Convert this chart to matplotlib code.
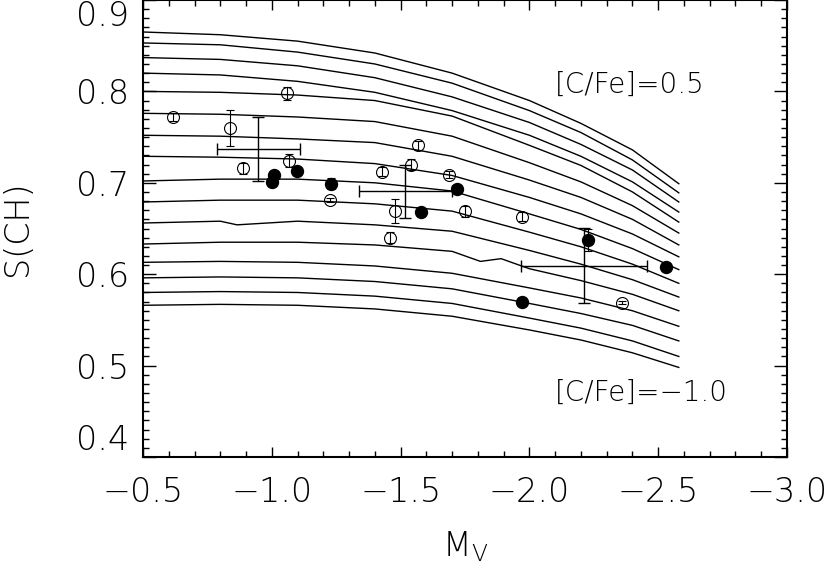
import matplotlib
matplotlib.use("Agg")
import matplotlib.pyplot as plt
from matplotlib.ticker import MultipleLocator

plt.rcParams['font.family'] = ['DejaVu Sans']
plt.rcParams['font.weight'] = 'ultralight'
plt.rcParams['axes.labelweight'] = 'ultralight'
plt.rcParams['mathtext.fontset'] = 'custom'
plt.rcParams['mathtext.rm'] = 'DejaVu Sans:weight=ultralight'
plt.rcParams['mathtext.default'] = 'rm'

# model curves, [C/Fe] = 0.5 (top) down to -1.0 (bottom)
mv_grid = [-0.5, -0.8, -1.1, -1.4, -1.7, -2.0, -2.2, -2.4, -2.58]
curves = [
    [0.865, 0.862, 0.855, 0.842, 0.820, 0.790, 0.765, 0.736, 0.699],
    [0.853, 0.851, 0.843, 0.830, 0.809, 0.779, 0.755, 0.725, 0.689],
    [0.837, 0.835, 0.828, 0.815, 0.794, 0.766, 0.742, 0.714, 0.679],
    [0.820, 0.818, 0.811, 0.799, 0.779, 0.752, 0.729, 0.701, 0.668],
    [0.800, 0.799, 0.796, 0.790, 0.773, 0.741, 0.719, 0.690, 0.657],
    [0.776, 0.775, 0.772, 0.767, 0.751, 0.722, 0.701, 0.675, 0.645],
    [0.752, 0.751, 0.748, 0.744, 0.729, 0.703, 0.684, 0.660, 0.632],
    [0.729, 0.728, 0.726, 0.721, 0.708, 0.684, 0.666, 0.644, 0.619],
    [0.702, 0.704, 0.704, 0.700, 0.691, 0.666, 0.649, 0.628, 0.605],
    [0.679, 0.681, 0.681, 0.677, 0.669, 0.646, 0.630, 0.611, 0.590],
    [0.656, 0.658, 0.658, 0.654, 0.647, 0.626, 0.611, 0.594, 0.575],
    [0.633, 0.635, 0.635, 0.632, 0.625, 0.606, 0.593, 0.578, 0.560],
    [0.613, 0.614, 0.613, 0.609, 0.601, 0.585, 0.574, 0.560, 0.543],
    [0.596, 0.597, 0.596, 0.592, 0.584, 0.568, 0.557, 0.544, 0.527],
    [0.580, 0.581, 0.580, 0.576, 0.568, 0.552, 0.541, 0.527, 0.510],
    [0.566, 0.567, 0.566, 0.562, 0.554, 0.539, 0.528, 0.514, 0.498],
]
# small wiggles seen on some of the curves: curve index -> (M_V, S(CH))
kinks = {
    10: [(-0.865, 0.654)],
    11: [(-1.81, 0.614), (-1.89, 0.617)],
}

# open symbols
open_mv = [-0.617, -0.838, -1.058, -0.889, -1.068, -1.226, -1.429, -1.569,
           -1.539, -1.689, -1.478, -1.750, -1.459, -1.970, -2.361]
open_s = [0.772, 0.760, 0.798, 0.716, 0.724, 0.681, 0.712, 0.741,
          0.720, 0.709, 0.669, 0.669, 0.640, 0.663, 0.569]
open_err = [0.004, 0.020, 0.007, 0.006, 0.007, 0.002, 0.005, 0.005,
            0.006, 0.004, 0.013, 0.006, 0.006, 0.005, 0.002]

# filled symbols
fill_mv = [-1.000, -1.010, -1.099, -1.229, -1.579, -1.720, -2.229, -2.530, -1.970]
fill_s = [0.701, 0.708, 0.713, 0.699, 0.668, 0.693, 0.637, 0.608, 0.570]
fill_err = [0.004, 0.004, 0.004, 0.006, 0.003, 0.004, 0.012, 0.004, 0.002]

# representative error crosses
cross_mv = [-0.948, -1.519, -2.212]
cross_s = [0.7365, 0.691, 0.6095]
cross_xerr = [0.160, 0.180, 0.246]
cross_yerr = [0.035, 0.029, 0.0415]

fig = plt.figure(figsize=(8.31, 5.70), dpi=100)
ax = fig.add_axes([143 / 831, 113 / 570, 644 / 831, 457 / 570])

for i, c in enumerate(curves):
    pts = sorted(list(zip(mv_grid, c)) + kinks.get(i, []), reverse=True)
    ax.plot([p[0] for p in pts], [p[1] for p in pts], color='black', lw=1.0)

ax.errorbar(open_mv, open_s, yerr=open_err, fmt='o', ms=8.6, mfc='none',
            mec='black', mew=0.8, ecolor='black', elinewidth=0.8,
            capsize=3, capthick=0.8)
ax.errorbar(fill_mv, fill_s, yerr=fill_err, fmt='o', ms=8.6, mfc='black',
            mec='black', ecolor='black', elinewidth=0.8,
            capsize=3, capthick=0.8)
ax.errorbar(cross_mv, cross_s, xerr=cross_xerr, yerr=cross_yerr, fmt='none',
            ecolor='black', elinewidth=1.0, capsize=4, capthick=1.0)

ax.text(-2.10, 0.807, '[C/Fe]=0.5', fontsize=20, va='center')
ax.text(-2.10, 0.470, '[C/Fe]=\u22121.0', fontsize=20, va='center')

ax.set_xlim(-0.5, -3.0)
ax.set_ylim(0.4, 0.9)
ax.xaxis.set_major_locator(MultipleLocator(0.5))
ax.xaxis.set_minor_locator(MultipleLocator(0.1))
ax.yaxis.set_major_locator(MultipleLocator(0.1))
ax.yaxis.set_minor_locator(MultipleLocator(0.01))
ax.xaxis.set_major_formatter(lambda v, p: f'{v:.1f}'.replace('-', '\u2212'))
ax.yaxis.set_major_formatter(lambda v, p: f'{v:.1f}')

ax.tick_params(which='both', direction='in', top=True, right=True,
               labelsize=24, width=1.0)
ax.tick_params(axis='x', which='major', length=7, pad=14)
ax.tick_params(axis='x', which='minor', length=4)
ax.tick_params(axis='y', which='major', length=9.5, pad=10)
ax.tick_params(axis='y', which='minor', length=4.5)
for sp in ax.spines.values():
    sp.set_linewidth(1.5)

ax.set_xlabel('M$_V$', fontsize=24, labelpad=14)
ax.set_ylabel('S(CH)', fontsize=24, labelpad=30)

fig.canvas.draw()
yt = ax.yaxis.get_major_ticks()
for t in yt:
    if abs(t.get_loc() - 0.4) < 1e-6:
        t.label1.set_va('bottom')
    if abs(t.get_loc() - 0.9) < 1e-6:
        t.label1.set_va('top')

fig.savefig('out.png', dpi=100)
